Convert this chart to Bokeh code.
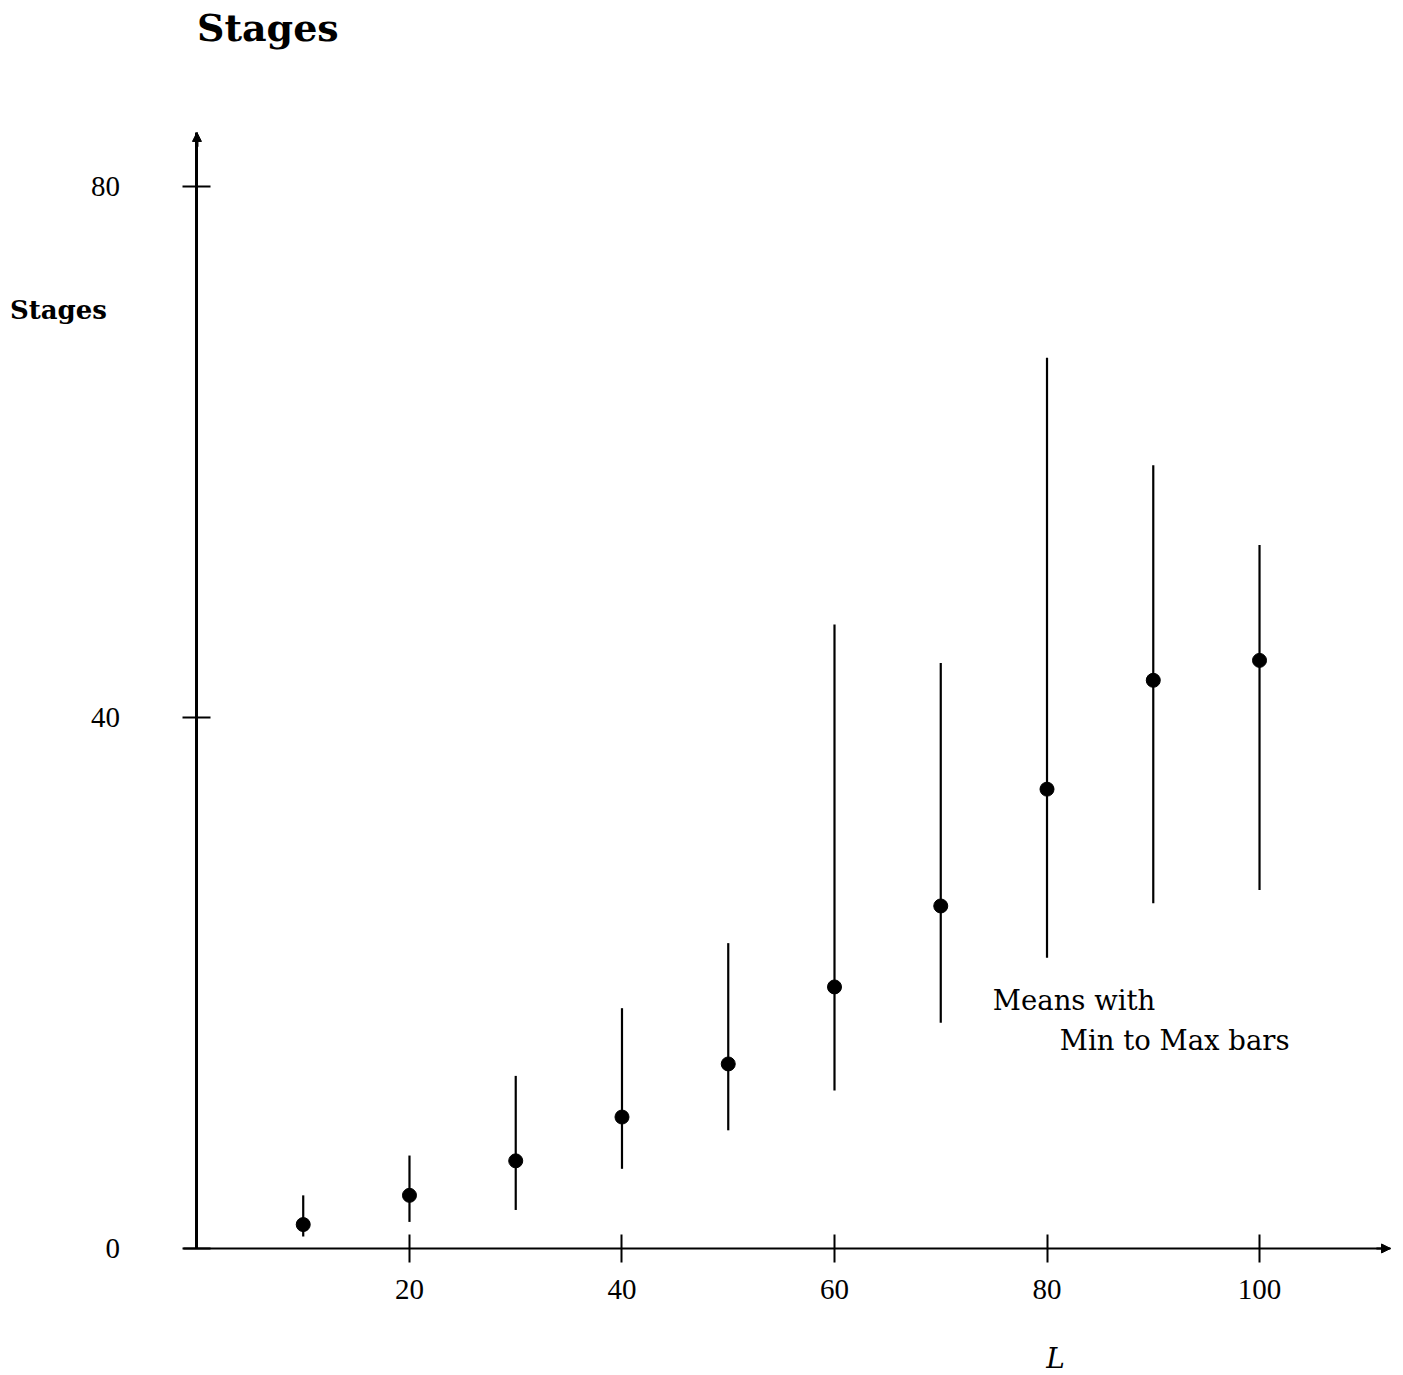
from bokeh.plotting import figure
from bokeh.models import LinearAxis, FixedTicker, Label, Range1d, Arrow, NormalHead
from bokeh.embed import file_html
from bokeh.resources import INLINE

# Data
L = [10, 20, 30, 40, 50, 60, 70, 80, 90, 100]
means = [1.8, 4.0, 6.6, 9.9, 13.9, 19.7, 25.8, 34.6, 42.8, 44.3]
mins = [0.9, 2.0, 2.9, 6.0, 8.9, 11.9, 17.0, 21.9, 26.0, 27.0]
maxs = [4.0, 7.0, 13.0, 18.1, 23.0, 47.0, 44.1, 67.1, 59.0, 53.0]
x_ticks = [20, 40, 60, 80, 100]
y_ticks = [0, 40, 80]

SERIF = "DejaVu Serif"
TICKFONT = "Liberation Serif"

p = figure(width=1403, height=1375, output_backend="svg", toolbar_location=None,
           x_axis_type=None, y_axis_type=None,
           x_range=Range1d(-18.49, 113.55), y_range=Range1d(-9.57, 94.01),
           min_border_left=0, min_border_right=0, min_border_top=0, min_border_bottom=0)
p.outline_line_color = None
p.background_fill_color = "white"
p.border_fill_color = "white"

xaxis = LinearAxis(ticker=FixedTicker(ticks=x_ticks), fixed_location=0, bounds=(-1.27, 112.33))
xaxis.axis_line_width = 2
xaxis.axis_line_color = "black"
xaxis.major_tick_in = 14
xaxis.major_tick_out = 14
xaxis.major_tick_line_width = 2
xaxis.minor_tick_line_color = None
xaxis.major_label_standoff = 18
xaxis.major_label_text_font = TICKFONT
xaxis.major_label_text_font_size = "29px"
xaxis.major_label_text_color = "black"
p.add_layout(xaxis, "below")

yaxis = LinearAxis(ticker=FixedTicker(ticks=y_ticks), fixed_location=0, bounds=(0, 84.07))
yaxis.axis_line_width = 3
yaxis.axis_line_color = "black"
yaxis.major_tick_in = 14
yaxis.major_tick_out = 14
yaxis.major_tick_line_width = 2
yaxis.minor_tick_line_color = None
yaxis.major_label_standoff = 63
yaxis.major_label_text_font = TICKFONT
yaxis.major_label_text_font_size = "29px"
yaxis.major_label_text_color = "black"
p.add_layout(yaxis, "left")

# axis arrowheads
p.add_layout(Arrow(end=NormalHead(size=9, fill_color="black", line_color="black", line_width=1),
                   x_start=111.0, y_start=0, x_end=112.33, y_end=0, line_width=2))
p.add_layout(Arrow(end=NormalHead(size=9, fill_color="black", line_color="black", line_width=1),
                   x_start=0, y_start=83.0, x_end=0, y_end=84.07, line_width=3))

# error bars and means
p.segment(x0=L, y0=mins, x1=L, y1=maxs, line_color="black", line_width=2.2)
p.scatter(x=L, y=means, size=14, fill_color="black", line_color="black")

# texts
p.add_layout(Label(x=0, y=92.0, text="Stages", text_font=SERIF, text_font_style="bold",
                   text_font_size="38px", text_baseline="middle", text_align="left", text_color="black"))
p.add_layout(Label(x=-17.6, y=70.7, text="Stages", text_font=SERIF, text_font_style="bold",
                   text_font_size="26px", text_baseline="middle", text_align="left", text_color="black"))
p.add_layout(Label(x=74.9, y=18.7, text="Means with", text_font=SERIF,
                   text_font_size="27.5px", text_baseline="middle", text_align="left", text_color="black"))
p.add_layout(Label(x=81.2, y=15.7, text="Min to Max bars", text_font=SERIF,
                   text_font_size="27.5px", text_baseline="middle", text_align="left", text_color="black"))
p.add_layout(Label(x=80.8, y=-8.3, text="L", text_font=SERIF, text_font_style="italic",
                   text_font_size="28px", text_baseline="middle", text_align="center", text_color="black"))

open("out.html", "w").write(file_html(p, INLINE))
